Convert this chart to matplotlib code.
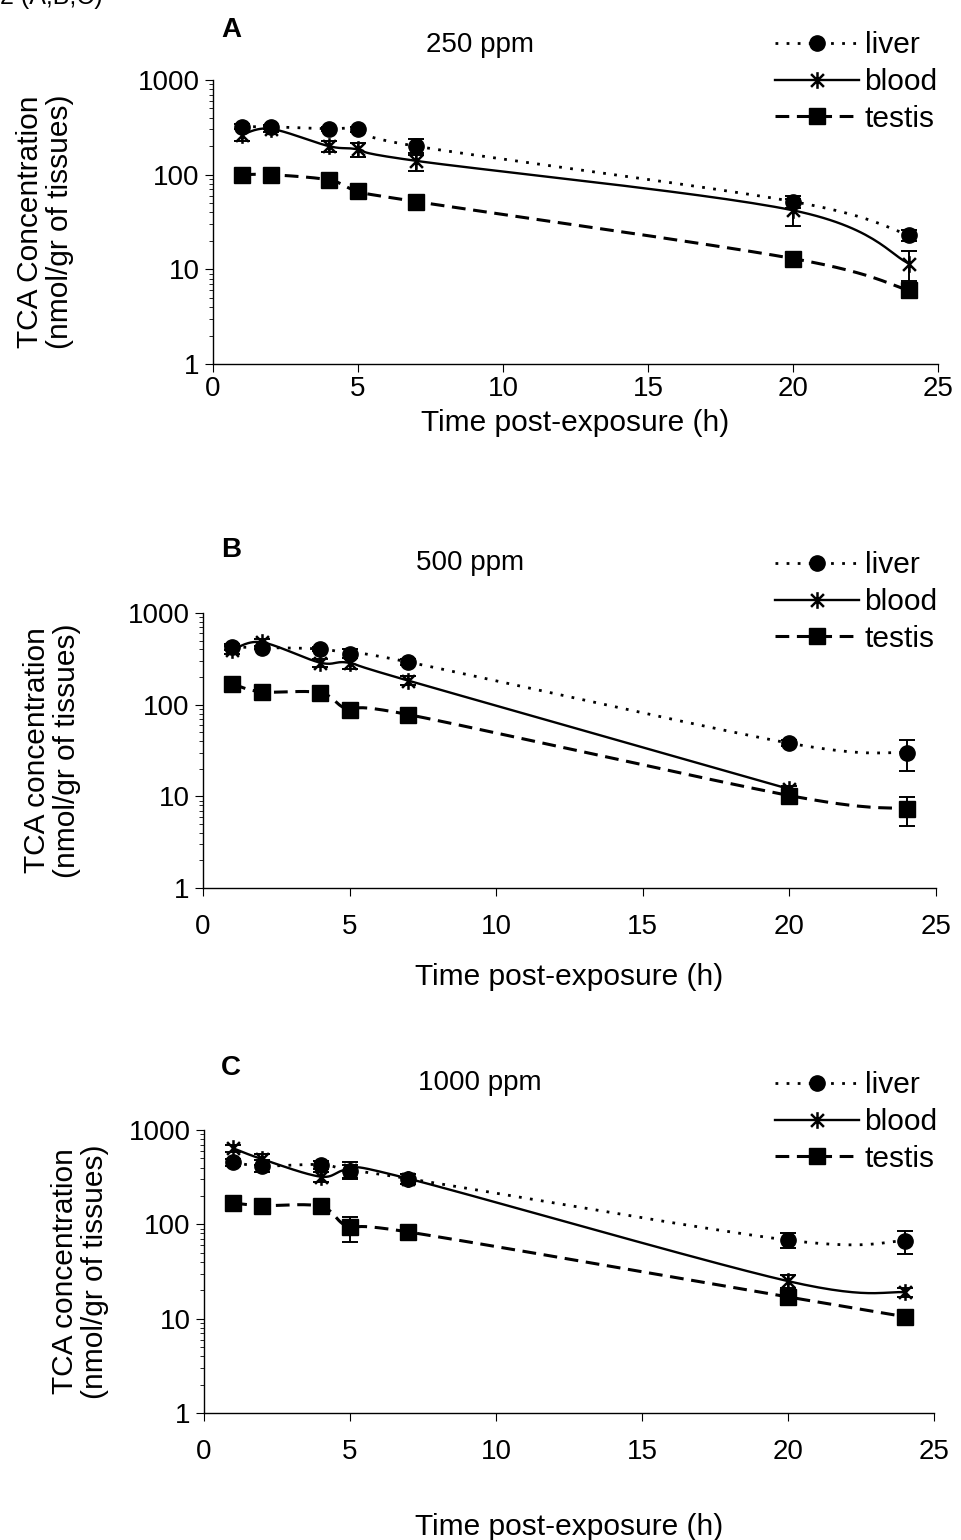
import numpy as np
import matplotlib.pyplot as plt
from matplotlib.path import Path

plt.rcParams['font.family'] = ['Liberation Sans', 'DejaVu Sans']

# sampling times (h post-exposure)
hours = [1, 2, 4, 5, 7, 20, 24]
hours_blood_500 = [1, 2, 4, 5, 7, 20]

# 250 ppm
liver_250 = [320, 320, 305, 300, 200, 52, 23]
liver_250_err = [20, 15, 15, 20, 40, 8, 3]
blood_250 = [265, 305, 200, 185, 140, 42, 11.5]
blood_250_err = [40, 20, 25, 30, 30, 13, 4]
testis_250 = [100, 100, 88, 67, 52, 13, 6]
testis_250_err = [5, 5, 6, 5, 4, 1.5, 1]

# 500 ppm
liver_500 = [425, 420, 405, 360, 292, 38, 30]
liver_500_err = [30, 20, 20, 40, 20, 3, 11]
blood_500 = [395, 480, 287, 285, 183, 12]
blood_500_err = [40, 40, 30, 40, 20, 1]
testis_500 = [168, 138, 135, 88, 78, 10.2, 7.3]
testis_500_err = [10, 10, 10, 8, 8, 1, 2.5]

# 1000 ppm
liver_1000 = [455, 415, 430, 370, 305, 68, 67]
liver_1000_err = [40, 60, 40, 60, 40, 12, 18]
blood_1000 = [640, 490, 320, 380, 305, 25, 19]
blood_1000_err = [60, 60, 40, 80, 40, 4, 2]
testis_1000 = [168, 158, 155, 93, 83, 17, 10.5]
testis_1000_err = [10, 10, 10, 28, 8, 3, 1]

panel_letters = ['A', 'B', 'C']
doses = ['250 ppm', '500 ppm', '1000 ppm']
ylabels = ['TCA Concentration\n(nmol/gr of tissues)',
           'TCA concentration\n(nmol/gr of tissues)',
           'TCA concentration\n(nmol/gr of tissues)']
yticks = [1, 10, 100, 1000]
xticks = [0, 5, 10, 15, 20, 25]


def smooth(x, y, n=30):
    # excel-style smoothed line (bezier through the points, log y)
    x = np.asarray(x, float)
    ly = np.log10(np.asarray(y, float))
    px = np.r_[x[0], x, x[-1]]
    py = np.r_[ly[0], ly, ly[-1]]
    t = np.linspace(0, 1, n)[:, None]
    xs, ys = [], []
    for i in range(1, len(px) - 2):
        p0 = np.array([px[i - 1], py[i - 1]])
        p1 = np.array([px[i], py[i]])
        p2 = np.array([px[i + 1], py[i + 1]])
        p3 = np.array([px[i + 2], py[i + 2]])
        c1 = p1 + (p2 - p0) / 6
        c2 = p2 - (p3 - p1) / 6
        b = ((1 - t) ** 3) * p1 + 3 * ((1 - t) ** 2) * t * c1 + 3 * (1 - t) * t ** 2 * c2 + t ** 3 * p2
        xs.append(b[:, 0])
        ys.append(b[:, 1])
    return np.concatenate(xs), 10 ** np.concatenate(ys)


# asterisk marker like excel (x plus vertical bar)
star = Path([(-1, -1), (1, 1), (-1, 1), (1, -1), (0, -1.3), (0, 1.3)],
            [Path.MOVETO, Path.LINETO, Path.MOVETO, Path.LINETO, Path.MOVETO, Path.LINETO])

fig = plt.figure(figsize=(9.61, 15.4), dpi=100)
W, H = 961, 1540

# axes boxes in pixels: left, right, top(1000), bottom(1)
boxes = [(213, 938, 80, 364), (203, 936, 613, 888), (204, 934, 1130, 1413)]
tickpads = [3, 13, 13]
xlabelpads = [5, 16, 34]
ylab_x = [45, 52, 80]
letter_pos = [(231, 30), (231, 550), (231, 1068)]
dose_pos = [(480, 45), (470, 563), (480, 1083)]
legend_pos = [(775, 31), (775, 551), (775, 1071)]

data = [
    (hours, liver_250, liver_250_err, hours, blood_250, blood_250_err, testis_250, testis_250_err),
    (hours, liver_500, liver_500_err, hours_blood_500, blood_500, blood_500_err, testis_500, testis_500_err),
    (hours, liver_1000, liver_1000_err, hours, blood_1000, blood_1000_err, testis_1000, testis_1000_err),
]

fs_tick = 20
fs_lab = 21.5
fs_leg = 21.5
for k in range(3):
    l, r, t, b = boxes[k]
    ax = fig.add_axes([l / W, 1 - b / H, (r - l) / W, (b - t) / H])
    th, lv, lve, bh, bl, ble, ts, tse = data[k]

    # liver - dotted with circles
    sx, sy = smooth(th, lv)
    ax.plot(sx, sy, color='black', lw=2, linestyle=(0, (1, 3)))
    ax.errorbar(th, lv, yerr=lve, fmt='none', ecolor='black', elinewidth=1.4, capsize=5.5, capthick=1.4)
    ax.plot(th, lv, linestyle='none', marker='o', ms=11, color='black')
    # blood - solid with asterisks
    sx, sy = smooth(bh, bl)
    ax.plot(sx, sy, color='black', lw=1.7)
    ax.errorbar(bh, bl, yerr=ble, fmt='none', ecolor='black', elinewidth=1.4, capsize=5.5, capthick=1.4)
    ax.plot(bh, bl, linestyle='none', marker=star, ms=12, mew=1.8, color='black', mfc='none')
    # testis - dashed with squares
    sx, sy = smooth(th, ts)
    ax.plot(sx, sy, color='black', lw=2.2, linestyle=(0, (4.5, 2.5)))
    ax.errorbar(th, ts, yerr=tse, fmt='none', ecolor='black', elinewidth=1.4, capsize=5.5, capthick=1.4)
    ax.plot(th, ts, linestyle='none', marker='s', ms=11, color='black')

    # legend proxies
    h1, = ax.plot([], [], color='black', lw=2, linestyle=(0, (1, 3)), marker='o', ms=11)
    h2, = ax.plot([], [], color='black', lw=1.7, marker=star, ms=12, mew=1.8, mfc='none')
    h3, = ax.plot([], [], color='black', lw=2.2, linestyle=(0, (4.5, 2.5)), marker='s', ms=11)
    lx, ly = legend_pos[k]
    ax.legend([h1, h2, h3], ['liver', 'blood', 'testis'], loc='upper left',
              bbox_to_anchor=(lx / W, 1 - ly / H), bbox_transform=fig.transFigure,
              frameon=False, fontsize=fs_leg, handlelength=2.8, handletextpad=0.2,
              labelspacing=0.3, borderpad=0, borderaxespad=0)

    ax.set_yscale('log')
    ax.set_ylim(1, 1000)
    ax.set_xlim(0, 25)
    ax.set_yticks(yticks)
    ax.set_yticklabels([str(v) for v in yticks])
    ax.set_xticks(xticks)
    for side in ['top', 'right']:
        ax.spines[side].set_visible(False)
    for side in ['left', 'bottom']:
        ax.spines[side].set_linewidth(1)
    ax.tick_params(which='major', direction='out', length=6, labelsize=fs_tick)
    ax.tick_params(which='minor', direction='out', length=3)
    ax.tick_params(axis='x', pad=tickpads[k])
    ax.set_xlabel('Time post-exposure (h)', fontsize=fs_lab, labelpad=xlabelpads[k])
    fig.text(ylab_x[k] / W, 1 - (t + b) / 2 / H, ylabels[k], rotation=90, fontsize=fs_lab,
             ha='center', va='center', multialignment='center', linespacing=1.05)

    fig.text(letter_pos[k][0] / W, 1 - letter_pos[k][1] / H, panel_letters[k],
             fontsize=20, fontweight='bold', ha='center', va='center')
    fig.text(dose_pos[k][0] / W, 1 - dose_pos[k][1] / H, doses[k],
             fontsize=20, ha='center', va='center')

# caption remnant cut by the top edge, as in the scan
fig.text(0.0, 1.002, '2 (A,B,C)', fontsize=18, ha='left', va='center')

fig.savefig('out.png', dpi=100)
